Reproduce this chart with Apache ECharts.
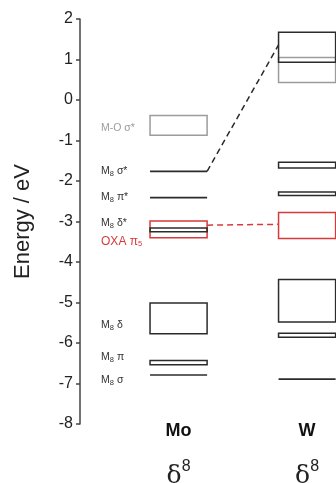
<!DOCTYPE html>
<html>
<head>
<meta charset="utf-8">
<script src="https://cdn.jsdelivr.net/npm/echarts@6/dist/echarts.min.js"></script>
<style>
  html, body { margin: 0; padding: 0; background: #fff; }
  #chart { width: 336px; height: 483px; }
</style>
</head>
<body>
<div id="chart"></div>
<script>
var columns = ['Mo', 'W'];
var yTicks = [-8, -7, -6, -5, -4, -3, -2, -1, 0, 1, 2];

// [column, kind, top energy, bottom energy]  (top == bottom -> single level)
var moLevels = [
    ['Mo', 'oxo', -0.38, -0.87],
    ['Mo', 'metal', -1.76, -1.76],
    ['Mo', 'metal', -2.41, -2.41],
    ['Mo', 'oxa', -2.99, -3.40],
    ['Mo', 'metal', -3.16, -3.25],
    ['Mo', 'metal', -5.01, -5.77],
    ['Mo', 'metal', -6.43, -6.54],
    ['Mo', 'metal', -6.79, -6.79]
];
var wLevels = [
    ['W', 'oxo', 1.05, 0.43],
    ['W', 'metal', 1.67, 0.93],
    ['W', 'metal', -1.54, -1.68],
    ['W', 'metal', -2.27, -2.36],
    ['W', 'oxa', -2.78, -3.42],
    ['W', 'metal', -4.43, -5.48],
    ['W', 'metal', -5.76, -5.86],
    ['W', 'metal', -6.89, -6.89]
];

// level names beside the Mo column: [text, energy, kind]
var levelNames = [
    ['M-O σ*', -0.69, 'oxo'],
    ['M{s|8} σ*', -1.76, 'metal'],
    ['M{s|8} π*', -2.40, 'metal'],
    ['M{s|8} δ*', -3.04, 'metal'],
    ['OXA π{s|5}', -3.50, 'oxa'],
    ['M{s|8} δ', -5.56, 'metal'],
    ['M{s|8} π', -6.35, 'metal'],
    ['M{s|8} σ', -6.92, 'metal']
];

// dashed correlation lines Mo -> W: [Mo energy, W energy, kind]
var links = [
    [-1.76, 1.36, 'metal'],
    [-3.09, -3.07, 'oxa']
];

var config = ['δ', '8'];

var colors = { metal: '#2b2b2b', oxo: '#9c9c9c', oxa: '#d63a3a' };
var halfW = 0.222;

var levels = moLevels.concat(wLevels).map(function (d) {
    return [columns.indexOf(d[0]), d[2], d[3], d[1]];
});

var myChart = echarts.init(document.getElementById('chart'));

var option = {
    animation: false,
    grid: { left: 80, right: 0, top: 19, bottom: 59, outerBoundsMode: 'none', containLabel: false },
    xAxis: {
        type: 'value',
        min: -0.767,
        max: 1.225,
        axisLine: { show: false, onZero: false },
        axisTick: { show: false },
        splitLine: { show: false },
        axisLabel: {
            customValues: [0, 1],
            margin: -2,
            formatter: function (v) {
                return '{n|' + columns[v] + '}\n{d|' + config[0] + '}{s|' + config[1] + '}';
            },
            rich: {
                n: { fontFamily: 'Liberation Sans', fontSize: 18, fontWeight: 'bold', color: '#111', lineHeight: 18 },
                d: { fontFamily: 'DejaVu Serif', fontSize: 25, color: '#222', lineHeight: 72 },
                s: { fontFamily: 'Liberation Sans', fontSize: 16, color: '#222', lineHeight: 72, padding: [0, 0, 18, 0] }
            }
        }
    },
    yAxis: {
        type: 'value',
        min: yTicks[0],
        max: yTicks[yTicks.length - 1],
        interval: 1,
        name: 'Energy / eV',
        nameLocation: 'middle',
        nameGap: 46,
        nameTextStyle: { fontFamily: 'Liberation Sans', fontSize: 22, color: '#222' },
        axisLine: { show: true, onZero: false, lineStyle: { color: '#444', width: 1.5 } },
        axisTick: { show: true, length: 4, lineStyle: { color: '#444', width: 1.5 } },
        splitLine: { show: false },
        axisLabel: { fontFamily: 'Liberation Sans', fontSize: 16, color: '#222', margin: 7 }
    },
    series: [
        {
            type: 'custom',
            data: levels,
            renderItem: function (params, api) {
                var c = api.value(0);
                var hi = api.value(1);
                var lo = api.value(2);
                var kind = levels[params.dataIndex][3];
                var p1 = api.coord([c - halfW, hi]);
                var p2 = api.coord([c + halfW, lo]);
                if (hi === lo) {
                    return {
                        type: 'line',
                        shape: { x1: p1[0], y1: p1[1], x2: p2[0], y2: p1[1] },
                        style: { stroke: colors[kind], lineWidth: 1.7 }
                    };
                }
                return {
                    type: 'rect',
                    shape: { x: p1[0], y: p1[1], width: p2[0] - p1[0], height: p2[1] - p1[1] },
                    style: { stroke: colors[kind], fill: 'none', lineWidth: 1.5 }
                };
            }
        },
        {
            type: 'custom',
            data: levelNames.map(function (d) { return [0, d[1]]; }),
            renderItem: function (params, api) {
                var item = levelNames[params.dataIndex];
                var p = api.coord([0 - halfW, api.value(1)]);
                var isOxa = item[2] === 'oxa';
                return {
                    type: 'text',
                    style: {
                        text: item[0],
                        x: p[0] - 49,
                        y: p[1],
                        align: 'left',
                        verticalAlign: 'middle',
                        fill: item[2] === 'metal' ? '#333' : colors[item[2]],
                        fontFamily: 'Liberation Sans',
                        fontSize: isOxa ? 12 : 10.5,
                        rich: {
                            s: { fontSize: 7.5, padding: [5, 0, 0, 0] }
                        }
                    }
                };
            }
        }
    ].concat(links.map(function (l) {
        return {
            type: 'line',
            data: [[0 + halfW, l[0]], [1 - halfW, l[1]]],
            symbol: 'none',
            lineStyle: { color: colors[l[2]], width: 1.5, type: [6, 4] }
        };
    }))
};

myChart.setOption(option);
</script>
</body>
</html>
